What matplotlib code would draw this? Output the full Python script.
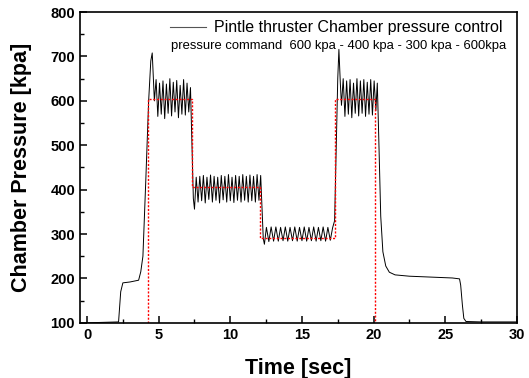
import matplotlib
matplotlib.use("Agg")
import matplotlib.pyplot as plt
from matplotlib.ticker import MultipleLocator
from matplotlib.lines import Line2D

plt.rcParams.update({
    "font.family": ["Liberation Sans", "DejaVu Sans"],
    "xtick.direction": "in",
    "ytick.direction": "in",
})

t_start = [0, 2.2, 2.35, 2.5, 3.0, 3.6, 3.75, 3.9, 4.1, 4.3, 4.45, 4.55, 4.7]
p_start = [100, 102, 170, 190, 192, 196, 215, 250, 420, 600, 690, 708, 600]

t_hi1 = [4.82, 4.94, 5.06, 5.18, 5.30, 5.42, 5.54, 5.66, 5.78, 5.90, 6.02,
         6.14, 6.26, 6.38, 6.50, 6.62, 6.74, 6.86, 6.98, 7.10, 7.22,
         7.32, 7.42, 7.50]
p_hi1 = [648, 565, 640, 570, 645, 560, 638, 572, 650, 566, 642,
         575, 646, 562, 635, 570, 648, 568, 640, 575, 630,
         500, 380, 356]

t_mid = [7.62, 7.75, 7.87, 8.0, 8.12, 8.25, 8.37, 8.5, 8.62, 8.75, 8.87,
         9.0, 9.12, 9.25, 9.37, 9.5, 9.62, 9.75, 9.87, 10.0, 10.12, 10.25,
         10.37, 10.5, 10.62, 10.75, 10.87, 11.0, 11.12, 11.25, 11.37, 11.5,
         11.62, 11.75, 11.87, 12.0, 12.12, 12.22, 12.3, 12.38]
p_mid = [428, 372, 430, 375, 432, 370, 428, 378, 433, 372, 430,
         376, 428, 370, 432, 377, 430, 372, 434, 375, 428, 371,
         432, 376, 430, 372, 434, 376, 430, 372, 433, 375,
         430, 372, 434, 376, 432, 350, 290, 277]

t_low = [12.52, 12.69, 12.85, 13.02, 13.18, 13.35, 13.51, 13.68, 13.84,
         14.01, 14.17, 14.34, 14.5, 14.67, 14.83, 15.0, 15.16, 15.33, 15.49,
         15.66, 15.82, 15.99, 16.15, 16.32, 16.48, 16.65, 16.81, 16.98, 17.14,
         17.28, 17.4, 17.5, 17.58, 17.68, 17.76]
p_low = [315, 283, 316, 284, 316, 284, 315, 285, 316,
         284, 315, 285, 316, 284, 315, 285, 316, 284, 315,
         285, 316, 284, 315, 285, 316, 284, 315, 286, 314,
         330, 500, 650, 716, 640, 590]

t_hi2 = [17.88, 18.0, 18.12, 18.24, 18.36, 18.48, 18.6, 18.72, 18.84, 18.96,
         19.08, 19.2, 19.32, 19.44, 19.56, 19.68, 19.8, 19.92, 20.04, 20.16,
         20.26]
p_hi2 = [650, 565, 645, 570, 648, 562, 640, 572, 650, 566,
         645, 572, 648, 565, 642, 570, 648, 568, 645, 578,
         640]

t_end = [20.36, 20.5, 20.65, 20.85, 21.1, 21.5, 22.5, 24, 25.5, 26.0,
         26.08, 26.2, 26.3, 26.45, 27.5, 30]
p_end = [520, 340, 260, 228, 214, 208, 205, 203, 201, 199,
         185, 140, 110, 103, 102, 102]

time = t_start + t_hi1 + t_mid + t_low + t_hi2 + t_end
pressure = p_start + p_hi1 + p_mid + p_low + p_hi2 + p_end

# ── pressure command ──
t_cmd = [4.26, 4.26, 7.3, 7.3, 12.1, 12.1, 17.3, 17.3, 20.1, 20.1]
p_cmd = [100, 605, 605, 405, 405, 292, 292, 605, 605, 100]

fig = plt.figure(figsize=(5.29, 3.78), dpi=100)
ax = fig.add_axes([0.151, 0.146, 0.826, 0.822])

ax.plot(time, pressure, color="black", lw=0.7)
ax.plot(t_cmd, p_cmd, color="red", lw=1.0, ls=(0, (1.5, 1.2)))

ax.set_xlim(-0.5, 30)
ax.set_ylim(100, 800)
ax.xaxis.set_major_locator(MultipleLocator(5))
ax.xaxis.set_minor_locator(MultipleLocator(2.5))
ax.yaxis.set_major_locator(MultipleLocator(100))
ax.yaxis.set_minor_locator(MultipleLocator(50))
ax.tick_params(which="major", length=5, width=1.1, labelsize=10.5)
ax.tick_params(which="minor", length=3, width=1.0)
for lab in ax.get_xticklabels() + ax.get_yticklabels():
    lab.set_fontweight("bold")
for sp in ax.spines.values():
    sp.set_linewidth(1.2)

ax.set_xlabel("Time [sec]", fontsize=15.5, fontweight="bold", labelpad=12)
ax.set_ylabel("Chamber Pressure [kpa]", fontsize=15.5, fontweight="bold", labelpad=13)

handle = Line2D([], [], color="#555555", lw=0.8)
ax.legend([handle], ["Pintle thruster Chamber pressure control"],
          loc="upper right", bbox_to_anchor=(0.99, 1.005), frameon=False,
          fontsize=11.5, handlelength=2.3, handletextpad=0.5, borderaxespad=0.2)
ax.text(0.975, 0.89, "pressure command  600 kpa - 400 kpa - 300 kpa - 600kpa",
        transform=ax.transAxes, ha="right", va="center", fontsize=9.4)

fig.savefig("out.png", dpi=100)
